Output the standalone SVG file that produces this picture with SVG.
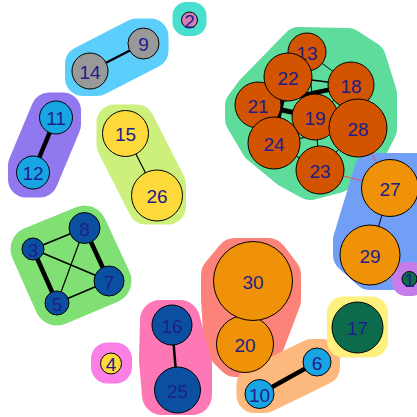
<svg xmlns="http://www.w3.org/2000/svg" width="417" height="417" viewBox="0 0 417 417">
<style>
.h{stroke-linejoin:round}
.e{stroke:#000;fill:none}
.r{stroke:#e8505a;stroke-width:1;fill:none}
circle{stroke:#000;stroke-width:1}
text{font-family:"Liberation Sans",Arial,sans-serif;font-size:19px;fill:#201d8c;text-anchor:middle;dominant-baseline:central}
.gy{fill:#999999}.lb{fill:#17a5e3}.yl{fill:#fdd93a}.db{fill:#0b50a0}.or{fill:#ef9208}.do{fill:#d25400}.dg{fill:#0b6b4c}.pk{fill:#d47fb4}
</style>
<rect width="417" height="417" fill="#fff"/>
<g id="hulls">
<polygon class="h" fill="#48dfcf" stroke="#48dfcf" stroke-width="28" points="186.5,16 192.5,16 192.5,22 186.5,22"/>
<polygon class="h" fill="#5ccefb" stroke="#5ccefb" stroke-width="36" points="83,64 136.5,36.5 150.5,36.5 150.5,50.5 97,78 83,78"/>
<polygon class="h" fill="#9178ef" stroke="#9178ef" stroke-width="36" points="49,110.5 63,110.5 63,124.5 40,179.5 26,179.5 26,165.5"/>
<polygon class="h" fill="#cdf07c" stroke="#cdf07c" stroke-width="36" points="114.5,122.5 136.5,122.5 168,184.5 168,206.5 146,206.5 114.5,144.5"/>
<polygon class="h" fill="#80e074" stroke="#80e074" stroke-width="45" points="84.5,228 109,281 57,303 33,249"/>
<polygon class="h" fill="#fa80e6" stroke="#fa80e6" stroke-width="33" points="107.5,359 115.5,359 115.5,367 107.5,367"/>
<polygon class="h" fill="#fb837a" stroke="#fb837a" stroke-width="40" points="235,258 268,258 281,275 281,300 262,350 250,357 236,357 224,345 221,300 221,275"/>
<polygon class="h" fill="#fd78b4" stroke="#fd78b4" stroke-width="40" points="160,320 180,320 192,365 192,395 162,395 159,360"/>
<polygon class="h" fill="#fdb87d" stroke="#fdb87d" stroke-width="36" points="312,357 322,357 322,367 264.5,395 254.5,395 254.5,385"/>
<polygon class="h" fill="#fdf07c" stroke="#fdf07c" stroke-width="33" points="343.5,313 371.5,313 371.5,341 343.5,341"/>
<polygon class="h" fill="#5edc9c" stroke="#5edc9c" stroke-width="36" points="254,91 299,45 348,46 368,59 379,94 379,129 365,156 337,175 310,182 288,170 259,146 243,119 243,106"/>
<polygon class="h" fill="#729ff6" stroke="#729ff6" stroke-width="36" points="372,171 425,171 425,235 395,272 370,272 351,255 351,240"/>
<polygon class="h" fill="#c57ee9" stroke="#c57ee9" stroke-width="28" points="406,276 412,276 412,282 406,282"/>
</g>
<g id="edges">
<line class="e" stroke-width="2.5" x1="143.5" y1="43.5" x2="90" y2="71"/>
<line class="e" stroke-width="4.5" x1="56" y1="117.5" x2="33" y2="172.5"/>
<line class="e" stroke-width="1.2" x1="125.5" y1="133.5" x2="157" y2="195.5"/>
<line class="e" stroke-width="1.5" x1="33" y1="249" x2="84.5" y2="228"/>
<line class="e" stroke-width="1.5" x1="33" y1="249" x2="109" y2="281"/>
<line class="e" stroke-width="4.5" x1="33" y1="249" x2="57" y2="303"/>
<line class="e" stroke-width="4.5" x1="84.5" y1="228" x2="109" y2="281"/>
<line class="e" stroke-width="1.2" x1="84.5" y1="228" x2="57" y2="303"/>
<line class="e" stroke-width="1.5" x1="57" y1="303" x2="109" y2="281"/>
<line class="e" stroke-width="2.5" x1="172" y1="325" x2="177.5" y2="390"/>
<line class="e" stroke-width="4.5" x1="317" y1="362" x2="259.5" y2="394"/>
<line class="e" stroke-width="1" x1="390" y1="188" x2="370" y2="255"/>
<line class="r" x1="358" y1="128" x2="390" y2="188"/>
<line class="r" x1="320" y1="170" x2="390" y2="188"/>
<line class="e" stroke-width="1" x1="307" y1="52" x2="351" y2="85"/>
<line class="e" stroke-width="1" x1="307" y1="52" x2="315" y2="117"/>
<line class="e" stroke-width="1.5" x1="288" y1="77" x2="351" y2="85"/>
<line class="e" stroke-width="1" x1="288" y1="77" x2="315" y2="117"/>
<line class="e" stroke-width="3" x1="288" y1="77" x2="274" y2="143"/>
<line class="e" stroke-width="4.5" x1="258" y1="105" x2="351" y2="85"/>
<line class="e" stroke-width="5" x1="258" y1="105" x2="315" y2="117"/>
<line class="e" stroke-width="1" x1="315" y1="117" x2="351" y2="85"/>
<line class="e" stroke-width="1" x1="315" y1="117" x2="320" y2="170"/>
<line class="e" stroke-width="1" x1="274" y1="143" x2="320" y2="170"/>
<line class="e" stroke-width="1" x1="274" y1="143" x2="358" y2="128"/>
<line class="e" stroke-width="1" x1="320" y1="170" x2="358" y2="128"/>
</g>
<g id="n2"><circle class="pk" cx="189.5" cy="20" r="8"/><text x="189.5" y="21">2</text></g>
<g id="n9"><circle class="gy" cx="143.5" cy="43.5" r="15.5"/><text x="143.5" y="44.5">9</text></g>
<g id="n14"><circle class="gy" cx="90" cy="71" r="18"/><text x="90" y="72">14</text></g>
<g id="n11"><circle class="lb" cx="56" cy="117.5" r="16.5"/><text x="56" y="118.5">11</text></g>
<g id="n12"><circle class="lb" cx="33" cy="172.5" r="16.5"/><text x="33" y="173.5">12</text></g>
<g id="n15"><circle class="yl" cx="125.5" cy="133.5" r="23"/><text x="125.5" y="134.5">15</text></g>
<g id="n26"><circle class="yl" cx="157" cy="195.5" r="25.5"/><text x="157" y="196.5">26</text></g>
<g id="n8"><circle class="db" cx="84.5" cy="228" r="15.5"/><text x="84.5" y="229">8</text></g>
<g id="n3"><circle class="db" cx="33" cy="249" r="11"/><text x="33" y="250">3</text></g>
<g id="n7"><circle class="db" cx="109" cy="281" r="15"/><text x="109" y="282">7</text></g>
<g id="n5"><circle class="db" cx="57" cy="303" r="12"/><text x="57" y="304">5</text></g>
<g id="n4"><circle class="yl" cx="111" cy="363.5" r="10.5"/><text x="111" y="364.5">4</text></g>
<g id="n16"><circle class="db" cx="172" cy="325" r="20"/><text x="172" y="326">16</text></g>
<g id="n25"><circle class="db" cx="177.5" cy="390" r="23"/><text x="177.5" y="391">25</text></g>
<g id="n20"><circle class="or" cx="245" cy="344" r="28.5"/><text x="245" y="345">20</text></g>
<g id="n30"><circle class="or" cx="253" cy="281" r="39.5"/><text x="253" y="282">30</text></g>
<g id="n6"><circle class="lb" cx="317" cy="362" r="14"/><text x="317" y="363">6</text></g>
<g id="n10"><circle class="lb" cx="259.5" cy="394" r="14.5"/><text x="259.5" y="395">10</text></g>
<g id="n17"><circle class="dg" cx="357.5" cy="327.5" r="25.5"/><text x="357.5" y="328.5">17</text></g>
<g id="n1"><circle class="dg" cx="409.5" cy="279" r="7.5"/><text x="409.5" y="280">1</text></g>
<g id="n27"><circle class="or" cx="390" cy="188" r="28.5"/><text x="390" y="189">27</text></g>
<g id="n29"><circle class="or" cx="370" cy="255" r="30"/><text x="370" y="256">29</text></g>
<g id="n13"><circle class="do" cx="307" cy="52" r="19"/><text x="307" y="53">13</text></g>
<g id="n21"><circle class="do" cx="258" cy="105" r="23"/><text x="258" y="106">21</text></g>
<g id="n22"><circle class="do" cx="288" cy="77" r="24"/><text x="288" y="78">22</text></g>
<g id="n18"><circle class="do" cx="351" cy="85" r="23"/><text x="351" y="86">18</text></g>
<g id="n19"><circle class="do" cx="315" cy="117" r="23"/><text x="315" y="118">19</text></g>
<g id="n24"><circle class="do" cx="274" cy="143" r="26"/><text x="274" y="144">24</text></g>
<g id="n23"><circle class="do" cx="320" cy="170" r="24"/><text x="320" y="171">23</text></g>
<g id="n28"><circle class="do" cx="358" cy="128" r="29"/><text x="358" y="129">28</text></g>
</svg>
